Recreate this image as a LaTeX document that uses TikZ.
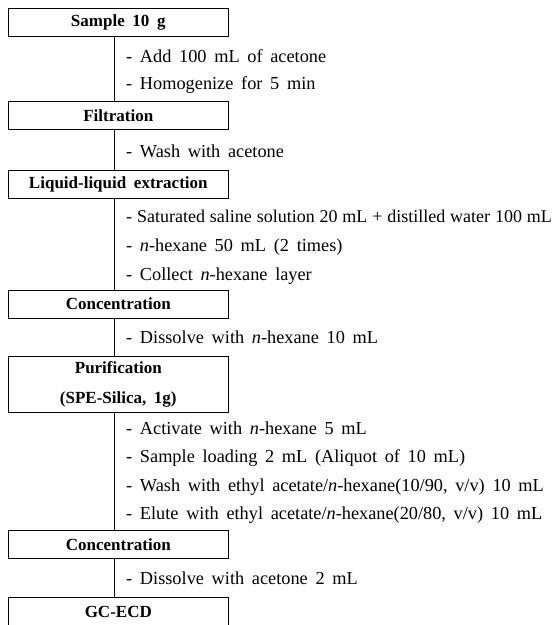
\documentclass[tikz,border=0pt]{standalone}
\usepackage{fontspec}
\setmainfont{Liberation Serif}

\newcommand{\hex}{\textit{n}-hexane}
\newcommand{\stagefont}{\fontsize{17}{30}\selectfont\bfseries\spaceskip=0.45em\relax}
\newcommand{\notefont}{\fontsize{18.3}{20}\selectfont\spaceskip=0.42em\relax}
\newcommand{\tightfont}{\fontsize{18}{20}\selectfont\spaceskip=0.27em\relax}

\tikzset{
  stage/.style={draw, line width=1pt, minimum width=220pt, minimum height=28pt,
    inner sep=0pt, align=center, font=\stagefont},
  note/.style={anchor=base west, inner sep=0pt, font=\notefont},
  tight/.style={font=\tightfont},
  flow/.style={line width=1pt},
}

\begin{document}
\begin{tikzpicture}[x=1pt, y=-1pt]
  \useasboundingbox (0,0) rectangle (559,625);
  \coordinate (spine) at (114.3,0);

  % extraction
  \node[stage] (sample) at (118.3,22.5) {Sample 10 g};
  \node[note] (add) at (126,62) {- Add 100 mL of acetone};
  \node[note] (homog) at (126,89) {- Homogenize for 5 min};

  \node[stage] (filt) at (118.3,115.5) {Filtration};
  \node[note] (rinse) at (126,157) {- Wash with acetone};

  % partition
  \node[stage] (lle) at (118.3,184) {Liquid-liquid extraction};
  \node[note, tight] (saline) at (126,222) {- Saturated saline solution 20 mL + distilled water 100 mL};
  \node[note] (hexpart) at (126,251) {- \hex{} 50 mL (2 times)};
  \node[note] (collect) at (126,280) {- Collect \hex{} layer};

  \node[stage] (conca) at (118.3,304) {Concentration};
  \node[note] (dissa) at (126,343.5) {- Dissolve with \hex{} 10 mL};

  % clean-up
  \node[stage, minimum height=56pt] (purif) at (118.3,384) {Purification\\(SPE-Silica, 1g)};
  \node[note] (activ) at (126,434) {- Activate with \hex{} 5 mL};
  \node[note] (load) at (126,462.5) {- Sample loading 2 mL (Aliquot of 10 mL)};
  \node[note] (wash) at (126,491) {- Wash with ethyl acetate/\hex(10/90, v/v) 10 mL};
  \node[note] (elute) at (126,519) {- Elute with ethyl acetate/\hex(20/80, v/v) 10 mL};

  \node[stage] (concb) at (118.3,544.5) {Concentration};
  \node[note] (dissb) at (126,584) {- Dissolve with acetone 2 mL};

  \node[stage] (gc) at (118.3,611.5) {GC-ECD};

  % spine between the stages
  \foreach \a/\b in {sample/filt, filt/lle, lle/conca, conca/purif, purif/concb, concb/gc}
    \draw[flow] (\a.south -| spine) -- (\b.north -| spine);
\end{tikzpicture}
\end{document}
